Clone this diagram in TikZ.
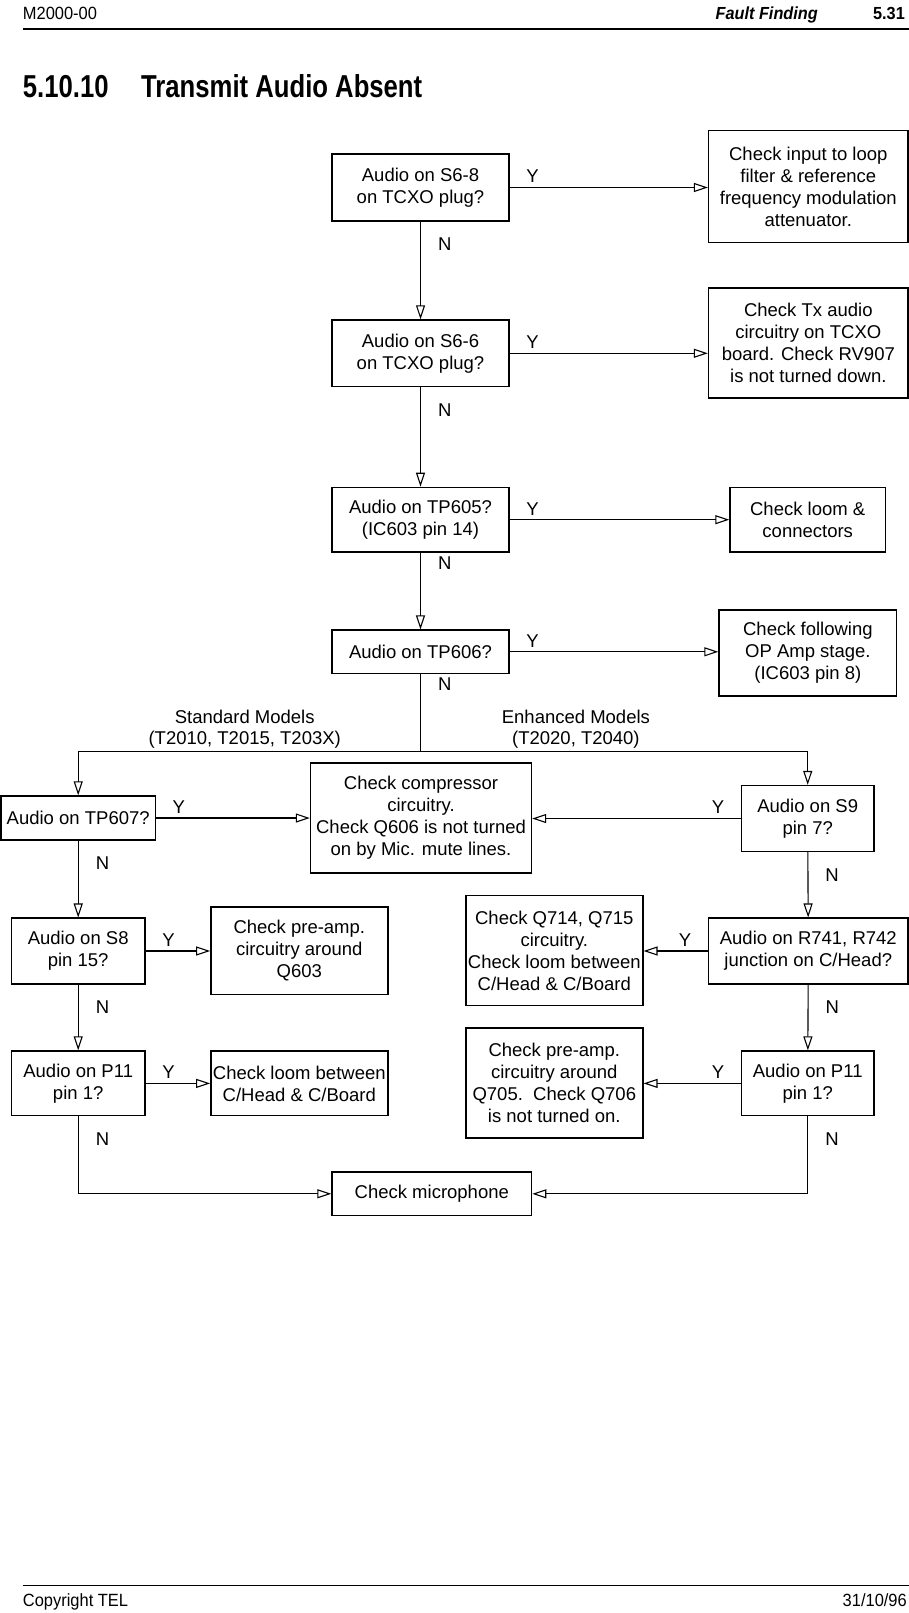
\documentclass[tikz,border=0pt]{standalone}
\usepackage{fontspec}
\setmainfont{Liberation Sans}
\newfontfamily\hdrfont[FakeStretch=0.93]{Liberation Sans}
\newfontfamily\ttlfont[FakeStretch=0.81]{Liberation Sans}
\usepackage{tikz}
\usetikzlibrary{arrows.meta, calc}

\newcommand{\boxfont}{\fontsize{18.5}{22}\selectfont}

\tikzset{
  box/.style={draw, line width=1.4pt, align=center, inner sep=0pt, font=\boxfont},
  arr/.style={-{Triangle[open, length=14pt, width=9pt]}, line width=1.1pt},
  link/.style={line width=1.1pt},
  ylab/.style={font=\boxfont, inner sep=0pt, anchor=south west, xshift=16pt, yshift=4pt},
  ylabl/.style={font=\boxfont, inner sep=0pt, anchor=south east, xshift=-16pt, yshift=4pt},
  nlab/.style={font=\boxfont, inner sep=0pt, anchor=north west, xshift=17pt, yshift=-16pt},
  models/.style={align=center, inner sep=0pt, font=\fontsize{18.5}{20.6}\selectfont}
}

\begin{document}
\begin{tikzpicture}[x=1pt, y=-1pt]
\useasboundingbox (0,0) rectangle (909,1613);

% page header and footer
\node[anchor=base west, inner sep=0pt, font=\hdrfont\fontsize{17.7}{20}\selectfont] (mnum) at (22.7,20) {M2000-00};
\node[anchor=base east, inner sep=0pt, font=\hdrfont\fontsize{17.5}{20}\selectfont\bfseries\itshape] (sect) at (818,20) {Fault Finding};
\node[anchor=base east, inner sep=0pt, font=\hdrfont\fontsize{17.5}{20}\selectfont\bfseries] (pnum) at (905,20) {5.31};
\draw[line width=1.1pt] (22.7,29) -- (909,29);
\node[anchor=base west, inner sep=0pt, font=\ttlfont\fontsize{31.7}{36}\selectfont\bfseries] (tnum) at (22.7,98) {5.10.10};
\node[anchor=base west, inner sep=0pt, font=\ttlfont\fontsize{31.7}{36}\selectfont\bfseries] (title) at (141,98) {Transmit Audio Absent};
\draw[line width=1.1pt] (22.7,1585.3) -- (909,1585.3);
\node[anchor=base west, inner sep=0pt, font=\hdrfont\fontsize{17.7}{20}\selectfont] (copy) at (22.7,1606) {Copyright TEL};
\node[anchor=base east, inner sep=0pt, font=\hdrfont\fontsize{17.7}{20}\selectfont] (date) at (907,1606) {31/10/96};

% main column
\node[box, minimum width=177pt, minimum height=67pt] (a1) at (420.5,187.5) {Audio on S6-8\\on TCXO plug?};
\node[box, minimum width=199.5pt, minimum height=112pt] (r1) at (808.3,186.7) {Check input to loop\\filter \& reference\\frequency modulation\\attenuator.};
\node[box, minimum width=177pt, minimum height=66.6pt] (a2) at (420.5,353.3) {Audio on S6-6\\on TCXO plug?};
\node[box, minimum width=199.5pt, minimum height=110pt] (r2) at (808.3,343) {Check Tx audio\\circuitry on TCXO\\board. Check RV907\\is not turned down.};
\node[box, minimum width=177pt, minimum height=64.6pt] (a3) at (420.5,519.7) {Audio on TP605?\\(IC603 pin 14)};
\node[box, minimum width=155.4pt, minimum height=64.6pt] (r3) at (807.7,519.7) {Check loom \&\\connectors};
\node[box, minimum width=177pt, minimum height=43.5pt] (a4) at (420.5,651.8) {Audio on TP606?};
\node[box, minimum width=177.7pt, minimum height=86pt] (r4) at (807.9,653) {Check following\\OP Amp stage.\\(IC603 pin 8)};

% model branches
\coordinate (br) at (420.5,751.7);
\node[models] (stdm) at (244.7,729) {Standard Models\\(T2010, T2015, T203X)};
\node[models] (enhm) at (575.9,729) {Enhanced Models\\(T2020, T2040)};

\node[box, minimum width=154.3pt, minimum height=44pt] (l1) at (78.2,818) {Audio on TP607?};
\node[box, minimum width=221pt, minimum height=110pt] (comp) at (421,818) {Check compressor\\circuitry.\\Check Q606 is not turned\\on by Mic. mute lines.};
\node[box, minimum width=132.6pt, minimum height=65.8pt] (r5) at (807.7,818.5) {Audio on S9\\pin 7?};

\node[box, minimum width=133.7pt, minimum height=65.7pt] (l2) at (78.2,951) {Audio on S8\\pin 15?};
\node[box, minimum width=177pt, minimum height=87.4pt] (l2c) at (299.3,950.7) {Check pre-amp.\\circuitry around\\Q603};
\node[box, minimum width=177pt, minimum height=110pt] (r6c) at (554.3,950.7) {Check Q714, Q715\\circuitry.\\Check loom between\\C/Head \& C/Board};
\node[box, minimum width=199.5pt, minimum height=65.7pt] (r6) at (808.3,951) {Audio on R741, R742\\junction on C/Head?};

\node[box, minimum width=133.7pt, minimum height=64.7pt] (l3) at (78.2,1083.4) {Audio on P11\\pin 1?};
\node[box, minimum width=177pt, minimum height=64.7pt] (l3c) at (299.3,1083.4) {Check loom between\\C/Head \& C/Board};
\node[box, minimum width=177pt, minimum height=110pt] (r7c) at (554.3,1083) {Check pre-amp.\\circuitry around\\Q705.\ \ Check Q706\\is not turned on.};
\node[box, minimum width=132.6pt, minimum height=64.7pt] (r7) at (807.7,1083.4) {Audio on P11\\pin 1?};

\node[box, minimum width=199.6pt, minimum height=43.5pt] (mic) at (431.8,1193.8) {Check microphone};

% yes connectors
\draw[arr] (a1.east) -- node[ylab, pos=0] (ya1) {Y} (a1.east -| r1.west);
\draw[arr] (a2.east) -- node[ylab, pos=0] (ya2) {Y} (a2.east -| r2.west);
\draw[arr] (a3.east) -- node[ylab, pos=0] (ya3) {Y} (a3.east -| r3.west);
\draw[arr] (a4.east) -- node[ylab, pos=0] (ya4) {Y} (a4.east -| r4.west);
\draw[arr] (l1.east) -- node[ylab, pos=0] (yl1) {Y} (l1.east -| comp.west);
\draw[arr] (r5.west) -- node[ylabl, pos=0] (yr5) {Y} (r5.west -| comp.east);
\draw[arr] (l2.east) -- node[ylab, pos=0] (yl2) {Y} (l2.east -| l2c.west);
\draw[arr] (r6.west) -- node[ylabl, pos=0] (yr6) {Y} (r6.west -| r6c.east);
\draw[arr] (l3.east) -- node[ylab, pos=0] (yl3) {Y} (l3.east -| l3c.west);
\draw[arr] (r7.west) -- node[ylabl, pos=0] (yr7) {Y} (r7.west -| r7c.east);

% no connectors
\draw[arr] (a1) -- node[nlab, pos=0] (na1) {N} (a2);
\draw[arr] (a2) -- node[nlab, pos=0] (na2) {N} (a3);
\draw[arr] (a3) -- node[nlab, pos=0, yshift=12pt] (na3) {N} (a4);
\draw[link] (a4) -- node[nlab, pos=0, yshift=13pt] (na4) {N} (br);
\draw[arr] (br) -| (l1);
\draw[arr] (br) -| (r5);
\draw[arr] (l1) -- node[nlab, pos=0] (nl1) {N} (l2);
\draw[arr] (l2) -- node[nlab, pos=0] (nl2) {N} (l3);
\draw[arr] (r5) -- node[nlab, pos=0] (nr5) {N} (r6);
\draw[arr] (r6) -- node[nlab, pos=0] (nr6) {N} (r7);
\draw[arr] (l3) |- node[nlab, pos=0] (nl3) {N} (mic);
\draw[arr] (r7) |- node[nlab, pos=0] (nr7) {N} (mic);
\end{tikzpicture}
\end{document}
